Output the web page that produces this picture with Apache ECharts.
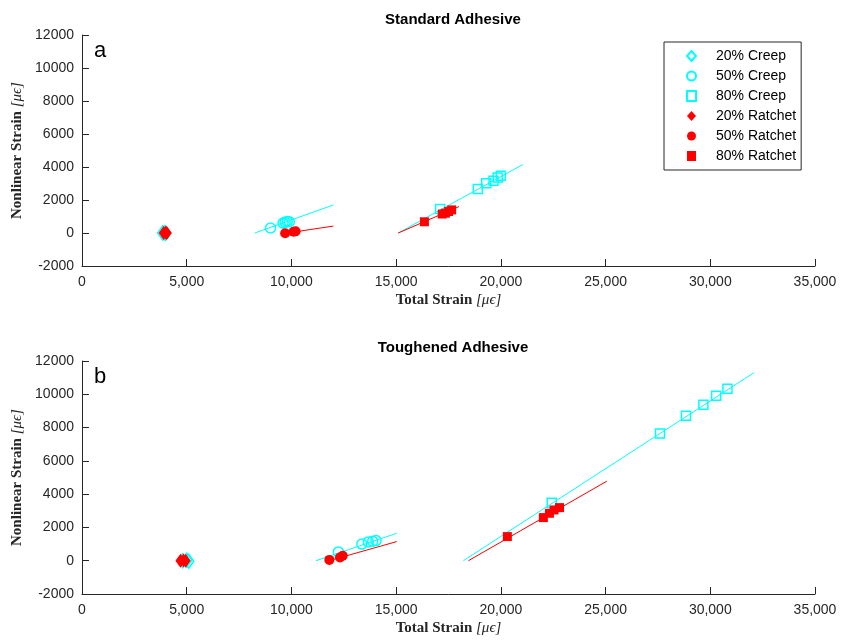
<!DOCTYPE html>
<html>
<head>
<meta charset="utf-8">
<script src="https://cdn.jsdelivr.net/npm/echarts@6/dist/echarts.min.js"></script>
<style>
html, body {margin: 0; padding: 0; background: #fff;}
#main {width: 842px; height: 644px;}
</style>
</head>
<body>
<div id="main"></div>
<script>
// axis ticks
var xTicks = [0, 5000, 10000, 15000, 20000, 25000, 30000, 35000];
var yTicks = [-2000, 0, 2000, 4000, 6000, 8000, 10000, 12000];

// (a) standard adhesive
var aCreep20 = [[3850, 0], [3950, 20], [4000, -10]];
var aRatchet20 = [[3900, 0], [4000, 30], [4050, 0]];
var aCreep50 = [[9000, 300], [9600, 600], [9700, 650], [9800, 700], [9900, 680]];
var aRatchet50 = [[9700, -20], [10100, 80], [10200, 100]];
var aCreep80 = [[17100, 1450], [18900, 2670], [19300, 3010], [19650, 3170], [19850, 3370], [20000, 3470]];
var aRatchet80 = [[16350, 680], [17200, 1150], [17350, 1200], [17500, 1300], [17650, 1400]];
var aCreep50Fit = [[8250, 0], [12000, 1700]];
var aRatchet50Fit = [[9700, -20], [12000, 420]];
var aCreep80Fit = [[15100, 0], [21050, 4150]];
var aRatchet80Fit = [[15100, 0], [18000, 1600]];

// (b) toughened adhesive
var bCreep20 = [[4800, 0], [5000, 30], [5100, -30]];
var bRatchet20 = [[4700, 0], [4850, 20], [4950, 0]];
var bCreep50 = [[12240, 530], [13360, 1000], [13670, 1130], [13880, 1170], [14040, 1210]];
var bRatchet50 = [[11810, 50], [12320, 200], [12450, 300]];
var bCreep80 = [[22430, 3490], [27600, 7640], [28840, 8710], [29670, 9370], [30280, 9910], [30820, 10330]];
var bRatchet80 = [[20310, 1450], [22030, 2590], [22320, 2850], [22540, 3050], [22800, 3190]];
var bCreep50Fit = [[11170, 0], [15030, 1650]];
var bRatchet50Fit = [[11800, 0], [15030, 1150]];
var bCreep80Fit = [[18210, 0], [32090, 11300]];
var bRatchet80Fit = [[18450, 0], [25060, 4780]];

var CYAN = '#00ffff', RED = '#ff0000', AX = '#262626';

function fmt(v) { return String(v).replace(/\B(?=(\d{3})+(?!\d))/g, ','); }

var nameRich = {
    b: {fontFamily: 'Liberation Serif', fontWeight: 'bold', fontSize: 15, color: AX},
    i: {fontFamily: 'Liberation Serif', fontStyle: 'italic', fontSize: 15, color: AX}
};

function xAxis(i) {
    return {
        gridIndex: i, type: 'value', min: xTicks[0], max: xTicks[xTicks.length - 1], interval: 5000,
        name: '{b|Total Strain }{i|[\u03bc\u03f5]}', nameLocation: 'middle', nameGap: 27,
        nameTextStyle: {rich: nameRich},
        axisLine: {onZero: false, lineStyle: {color: AX}},
        axisTick: {inside: true, length: 7, lineStyle: {color: AX}},
        axisLabel: {color: AX, fontFamily: 'Liberation Sans', fontSize: 14, margin: 9, formatter: fmt},
        splitLine: {show: false}
    };
}
function yAxis(i) {
    return {
        gridIndex: i, type: 'value', min: yTicks[0], max: yTicks[yTicks.length - 1], interval: 2000,
        name: '{b|Nonlinear Strain }{i|[\u03bc\u03f5]}', nameLocation: 'middle', nameGap: 57, nameRotate: 90,
        nameTextStyle: {rich: nameRich},
        axisLine: {show: true, onZero: false, lineStyle: {color: AX}},
        axisTick: {show: true, inside: true, length: 7, lineStyle: {color: AX}},
        axisLabel: {color: AX, fontFamily: 'Liberation Sans', fontSize: 14, margin: 8,
            formatter: function (v) { return String(v); }},
        splitLine: {show: false}
    };
}

function fit(i, data, color) {
    return {type: 'line', name: 'fit', xAxisIndex: i, yAxisIndex: i, data: data, symbol: 'none',
        lineStyle: {color: color, width: 1}, silent: true, z: 1};
}
function pts(i, name, data, symbol, size, filled, color) {
    return {type: 'scatter', name: name, xAxisIndex: i, yAxisIndex: i, data: data,
        symbol: symbol, symbolSize: size, z: filled ? 3 : 2,
        itemStyle: filled ? {color: color, opacity: 1}
            : {color: 'rgba(255,255,255,0)', borderColor: color, borderWidth: 1.5, opacity: 1}};
}

var series = [];
[[aCreep50Fit, aRatchet50Fit, aCreep80Fit, aRatchet80Fit], [bCreep50Fit, bRatchet50Fit, bCreep80Fit, bRatchet80Fit]].forEach(function (f, i) {
    series.push(fit(i, f[0], CYAN), fit(i, f[1], RED), fit(i, f[2], CYAN), fit(i, f[3], RED));
});
[[aCreep20, aCreep50, aCreep80, aRatchet20, aRatchet50, aRatchet80], [bCreep20, bCreep50, bCreep80, bRatchet20, bRatchet50, bRatchet80]].forEach(function (d, i) {
    series.push(
        pts(i, '20% Creep', d[0], 'diamond', [10, 14], false, CYAN),
        pts(i, '50% Creep', d[1], 'circle', 10, false, CYAN),
        pts(i, '80% Creep', d[2], 'rect', 9, false, CYAN),
        pts(i, '20% Ratchet', d[3], 'diamond', [10, 14], true, RED),
        pts(i, '50% Ratchet', d[4], 'circle', 10, true, RED),
        pts(i, '80% Ratchet', d[5], 'rect', 9, true, RED)
    );
});

var chart = echarts.init(document.getElementById('main'));
chart.setOption({
    animation: false,
    backgroundColor: '#fff',
    title: [
        {text: 'Standard Adhesive', left: 448, top: 7, textAlign: 'center',
            textStyle: {fontFamily: 'Liberation Sans', fontWeight: 'bold', fontSize: 15, color: '#000'}},
        {text: 'Toughened Adhesive', left: 448, top: 335, textAlign: 'center',
            textStyle: {fontFamily: 'Liberation Sans', fontWeight: 'bold', fontSize: 15, color: '#000'}}
    ],
    grid: [
        {left: 82, top: 35, width: 733, height: 231},
        {left: 82, top: 361, width: 733, height: 233}
    ],
    xAxis: [xAxis(0), xAxis(1)],
    yAxis: [yAxis(0), yAxis(1)],
    legend: {
        orient: 'vertical', left: 664, top: 42,
        data: ['20% Creep', '50% Creep', '80% Creep', '20% Ratchet', '50% Ratchet', '80% Ratchet'],
        borderColor: '#262626', borderWidth: 1, backgroundColor: '#fff',
        padding: [7, 5, 7, 22], itemGap: 6, itemWidth: 9, itemHeight: 10,
        textStyle: {fontFamily: 'Liberation Sans', fontSize: 14, color: '#000', padding: [0, 0, 0, 15]},
        selectedMode: false
    },
    graphic: [
        {type: 'text', left: 94, top: 40, style: {text: 'a', font: '22px "Liberation Sans"', fill: '#000'}},
        {type: 'text', left: 94, top: 366, style: {text: 'b', font: '22px "Liberation Sans"', fill: '#000'}}
    ],
    series: series
});
</script>
</body>
</html>
